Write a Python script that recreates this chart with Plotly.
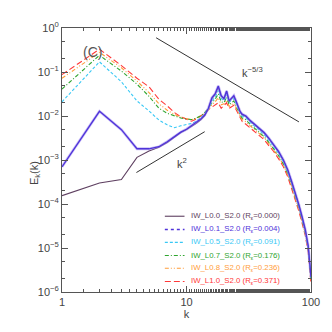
import plotly.graph_objects as go

# wavenumbers (shared by all series)
k = [1, 2, 3, 4, 5, 6, 7, 8, 9, 10, 11, 12, 13, 14, 15, 16, 17, 18, 19, 20,
     21, 22, 23, 24, 25, 26, 27, 28, 30, 32, 35, 38, 42, 46, 50, 55, 60, 65,
     70, 75, 80, 85, 90, 95, 98, 100]

e_L00 = [1.55e-4, 3.0e-4, 3.6e-4, 1.15e-3, 1.6e-3, 1.95e-3, 2.5e-3, 3.3e-3, 4.2e-3, 4.9e-3,
         5.8e-3, 6.8e-3, 8.2e-3, 1.02e-2, 1.45e-2, 2.5e-2, 3.1e-2, 4.6e-2, 2.8e-2, 2.4e-2,
         3.6e-2, 2.1e-2, 2.5e-2, 2.8e-2, 2.1e-2, 1.55e-2, 1.2e-2, 1.05e-2, 9.7e-3, 8.0e-3,
         6.4e-3, 5.2e-3, 4.1e-3, 3.0e-3, 2.2e-3, 1.5e-3, 9.7e-4, 5.8e-4, 3.1e-4, 1.7e-4,
         9.2e-5, 4.8e-5, 2.5e-5, 1.05e-5, 4.8e-6, 2.1e-6]
e_L01 = [7.0e-4, 1.28e-2, 4.9e-3, 1.8e-3, 1.8e-3, 2.0e-3, 2.6e-3, 3.4e-3, 4.3e-3, 5.0e-3,
         6.0e-3, 7.0e-3, 8.5e-3, 1.05e-2, 1.5e-2, 2.6e-2, 3.2e-2, 4.8e-2, 2.9e-2, 2.5e-2,
         3.7e-2, 2.2e-2, 2.6e-2, 2.9e-2, 2.2e-2, 1.6e-2, 1.25e-2, 1.1e-2, 1.0e-2, 8.2e-3,
         6.6e-3, 5.4e-3, 4.2e-3, 3.1e-3, 2.3e-3, 1.55e-3, 1.0e-3, 6.0e-4, 3.2e-4, 1.75e-4,
         9.5e-5, 5.0e-5, 2.6e-5, 1.1e-5, 5.0e-6, 2.2e-6]
e_L05 = [2.1e-2, 0.17, 6.0e-2, 2.2e-2, 1.3e-2, 8.1e-3, 6.3e-3, 5.4e-3, 6.0e-3, 6.3e-3,
         6.8e-3, 7.6e-3, 9.0e-3, 1.1e-2, 1.45e-2, 2.2e-2, 2.7e-2, 3.8e-2, 2.5e-2, 2.2e-2,
         3.1e-2, 2.0e-2, 2.3e-2, 2.5e-2, 1.9e-2, 1.45e-2, 1.15e-2, 1.0e-2, 9.0e-3, 7.4e-3,
         5.9e-3, 4.8e-3, 3.8e-3, 2.8e-3, 2.05e-3, 1.4e-3, 9.0e-4, 5.4e-4, 2.9e-4, 1.6e-4,
         8.6e-5, 4.5e-5, 2.35e-5, 1.0e-5, 4.5e-6, 2.0e-6]
e_L07 = [4.1e-2, 0.24, 0.105, 5.3e-2, 2.8e-2, 1.5e-2, 1.15e-2, 1.0e-2, 9.0e-3, 8.5e-3,
         8.3e-3, 9.0e-3, 1.0e-2, 1.2e-2, 1.5e-2, 2.0e-2, 2.4e-2, 3.2e-2, 2.1e-2, 2.0e-2,
         2.7e-2, 1.8e-2, 2.0e-2, 2.2e-2, 1.7e-2, 1.3e-2, 1.05e-2, 9.0e-3, 8.2e-3, 6.7e-3,
         5.4e-3, 4.4e-3, 3.4e-3, 2.5e-3, 1.85e-3, 1.25e-3, 8.2e-4, 4.9e-4, 2.65e-4, 1.45e-4,
         8.0e-5, 4.2e-5, 2.2e-5, 9.5e-6, 4.3e-6, 1.9e-6]
e_L08 = [7.2e-2, 0.28, 0.125, 6.2e-2, 3.4e-2, 1.9e-2, 1.35e-2, 1.08e-2, 9.4e-3, 8.6e-3,
         8.2e-3, 8.8e-3, 1.0e-2, 1.15e-2, 1.4e-2, 1.8e-2, 2.1e-2, 2.6e-2, 1.8e-2, 1.9e-2,
         2.3e-2, 1.65e-2, 1.8e-2, 1.95e-2, 1.55e-2, 1.2e-2, 9.8e-3, 8.3e-3, 7.4e-3, 6.2e-3,
         5.0e-3, 4.1e-3, 3.2e-3, 2.35e-3, 1.75e-3, 1.18e-3, 7.7e-4, 4.6e-4, 2.5e-4, 1.38e-4,
         7.5e-5, 4.0e-5, 2.1e-5, 9.0e-6, 4.1e-6, 1.8e-6]
e_L10 = [8.7e-2, 0.33, 0.14, 7.2e-2, 4.6e-2, 2.4e-2, 1.7e-2, 1.2e-2, 9.6e-3, 8.4e-3,
         7.6e-3, 8.5e-3, 1.0e-2, 1.15e-2, 1.4e-2, 1.6e-2, 1.8e-2, 2.0e-2, 1.5e-2, 1.75e-2,
         2.0e-2, 1.5e-2, 1.6e-2, 1.75e-2, 1.4e-2, 1.1e-2, 9.0e-3, 7.5e-3, 6.5e-3, 5.6e-3,
         4.5e-3, 3.7e-3, 2.9e-3, 2.1e-3, 1.58e-3, 1.06e-3, 7.0e-4, 4.2e-4, 2.25e-4, 1.25e-4,
         6.8e-5, 3.6e-5, 1.9e-5, 8.0e-6, 3.5e-6, 1.5e-6]

names = ["IW_L0.0_S2.0", "IW_L0.1_S2.0", "IW_L0.5_S2.0",
         "IW_L0.7_S2.0", "IW_L0.8_S2.0", "IW_L1.0_S2.0"]
r_eps = ["0.000", "0.004", "0.091", "0.176", "0.236", "0.371"]

# reference power laws
k53 = [5.7, 80.0]
e53 = [0.6, 0.6 * (80.0 / 5.7) ** (-5.0 / 3.0)]
k2 = [3.96, 14.0]
e2 = [5.2e-4, 4.4e-3]

ytick_vals = [1e-6, 1e-5, 1e-4, 1e-3, 1e-2, 1e-1, 1e0]
ytick_text = ["10<sup>−6</sup>", "10<sup>−5</sup>", "10<sup>−4</sup>", "10<sup>−3</sup>",
              "10<sup>−2</sup>", "10<sup>−1</sup>", "10<sup>0</sup>"]
xtick_vals = [1, 10, 100]
xtick_text = ["1", "10", "100"]

colors = ["#5e3f60", "#4f33d9", "#38c8f5", "#2fa52f", "#ff9d3a", "#ff3838"]
dashes = ["solid", "dot", "3px,2px", "4px,2px,1px,2px", "4px,2px,1px,2px,1px,2px", "6px,3px"]
series = [e_L00, e_L01, e_L05, e_L07, e_L08, e_L10]

FONT = "Liberation Sans"

fig = go.Figure()

# reference slopes
fig.add_trace(go.Scatter(x=k53, y=e53, mode="lines", line=dict(color="#333333", width=1),
                         showlegend=False, hoverinfo="skip"))
fig.add_trace(go.Scatter(x=k2, y=e2, mode="lines", line=dict(color="#333333", width=1),
                         showlegend=False, hoverinfo="skip"))

# draw order: black, red, orange, green, cyan, blue
order = [0, 5, 4, 3, 2, 1]
for i in order:
    if i == 1:
        fig.add_trace(go.Scatter(x=k, y=series[i], mode="lines",
                                 line=dict(color="rgba(160,140,240,0.55)", width=2.8),
                                 showlegend=False, hoverinfo="skip"))
        fig.add_trace(go.Scatter(x=k, y=series[i], mode="lines", name=names[i],
                                 line=dict(color=colors[i], width=1.3),
                                 showlegend=False))
    else:
        fig.add_trace(go.Scatter(x=k, y=series[i], mode="lines", name=names[i],
                                 line=dict(color=colors[i], width=1.1, dash=dashes[i]),
                                 showlegend=False))

# manual legend
row_y = [0.287, 0.237, 0.188, 0.138, 0.090, 0.040]
shapes = []
annotations = []
for i in range(6):
    shapes.append(dict(type="line", xref="paper", yref="paper",
                       x0=0.413, x1=0.492, y0=row_y[i], y1=row_y[i],
                       line=dict(color=colors[i], width=1.6 if i == 1 else 1.1,
                                 dash=dashes[i])))
    annotations.append(dict(xref="paper", yref="paper", x=0.512, y=row_y[i],
                            xanchor="left", yanchor="middle", showarrow=False,
                            text=f"{names[i]} (R<sub>ε</sub>={r_eps[i]})",
                            font=dict(family=FONT, size=7.8, color=colors[i])))

annotations += [
    dict(xref="paper", yref="paper", x=0.075, y=0.948, text="(C)", showarrow=False,
         font=dict(family=FONT, size=14, color="#555555")),
    dict(xref="paper", yref="paper", x=0.815, y=0.868, text="k<sup>−5/3</sup>", showarrow=False,
         font=dict(family=FONT, size=11, color="#444444")),
    dict(xref="paper", yref="paper", x=0.48, y=0.49, text="k<sup>2</sup>", showarrow=False,
         font=dict(family=FONT, size=11, color="#444444")),
    dict(xref="paper", yref="paper", x=-0.145, y=0.45, text="E<sub>k</sub>(k)",
         textangle=-90, showarrow=False,
         font=dict(family=FONT, size=11, color="#444444")),
]

axis_common = dict(type="log", showline=True, linecolor="#555555", linewidth=1,
                   mirror="ticks", ticks="inside", ticklen=6, tickcolor="#555555",
                   showgrid=False, zeroline=False,
                   minor=dict(ticks="inside", ticklen=3, tickcolor="#555555", showgrid=False),
                   tickfont=dict(family=FONT, size=11, color="#444444"))

fig.update_xaxes(**axis_common, range=[0, 2], tickmode="array", tickvals=xtick_vals,
                 ticktext=xtick_text,
                 title=dict(text="k", font=dict(family=FONT, size=11, color="#444444"),
                            standoff=2))
fig.update_yaxes(**axis_common, range=[-6, 0], tickmode="array", tickvals=ytick_vals,
                 ticktext=ytick_text)

# the page body adds an 8px offset, so the figure is 324px with reduced left/top margins
fig.update_layout(width=324, height=324, margin=dict(l=54, r=18, t=12, b=40),
                  paper_bgcolor="white", plot_bgcolor="white",
                  shapes=shapes, annotations=annotations, showlegend=False)

fig.write_html("out.html")
